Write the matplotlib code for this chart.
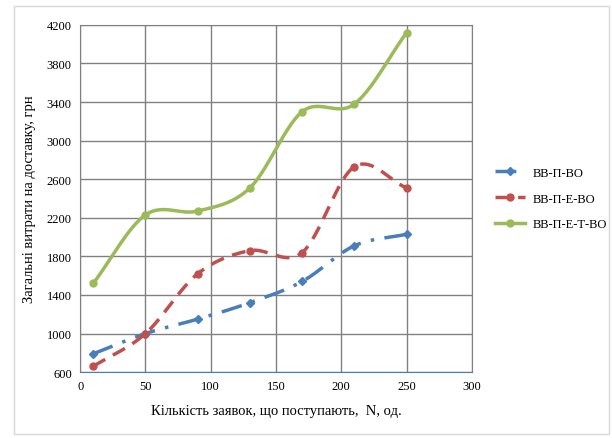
import numpy as np
import matplotlib.pyplot as plt
from matplotlib.patches import Rectangle

# data
n_orders = [10, 50, 90, 130, 170, 210, 250]
cost_vv_p_vo = [790, 1000, 1150, 1320, 1540, 1910, 2030]
cost_vv_p_e_vo = [660, 1000, 1620, 1860, 1840, 2730, 2510]
cost_vv_p_e_t_vo = [1520, 2230, 2270, 2510, 3300, 3380, 4120]
series_names = ["ВВ-П-ВО", "ВВ-П-Е-ВО", "ВВ-П-Е-Т-ВО"]


def smooth(x, y, steps=30):
    # Catmull-Rom curve through the points, like Excel's "smoothed line"
    x = np.asarray(x, float)
    y = np.asarray(y, float)
    px = np.concatenate([[2 * x[0] - x[1]], x, [2 * x[-1] - x[-2]]])
    py = np.concatenate([[2 * y[0] - y[1]], y, [2 * y[-1] - y[-2]]])
    t = np.linspace(0, 1, steps)[:, None]
    xs, ys = [], []
    for i in range(1, len(px) - 2):
        for p, out in ((px, xs), (py, ys)):
            p0, p1, p2, p3 = p[i - 1], p[i], p[i + 1], p[i + 2]
            c = 0.5 * ((2 * p1) + (-p0 + p2) * t + (2 * p0 - 5 * p1 + 4 * p2 - p3) * t ** 2
                       + (-p0 + 3 * p1 - 3 * p2 + p3) * t ** 3)
            out.append(c.ravel())
    return np.concatenate(xs), np.concatenate(ys)


plt.rcParams["font.family"] = ["Liberation Serif", "DejaVu Serif"]

fig = plt.figure(figsize=(6.12, 4.39), dpi=100)
ax = fig.add_axes([0.131, 0.150, 0.640, 0.791])

fig.patches.append(Rectangle((0.023, 0.008), 0.972, 0.975, transform=fig.transFigure,
                             fill=False, edgecolor="#d9d9d9", lw=1.0))

styles = [
    (cost_vv_p_vo, "#4a7ebb", (0, (6, 3, 1, 3)), "D", 4.5),
    (cost_vv_p_e_vo, "#c0504d", (0, (4, 2.5)), "o", 5),
    (cost_vv_p_e_t_vo, "#9bbb59", "-", "o", 5),
]
for (vals, color, ls, mk, ms), name in zip(styles, series_names):
    sx, sy = smooth(n_orders, vals)
    ax.plot(sx, sy, color=color, lw=2.5, linestyle=ls, zorder=3)
    ax.plot(n_orders, vals, linestyle="none", marker=mk, ms=ms, color=color, zorder=4)
    ax.plot([], [], color=color, lw=2.5, linestyle=ls, marker=mk, ms=ms, label=name)

ax.set_xlim(0, 300)
ax.set_ylim(600, 4200)
ax.set_xticks(np.arange(0, 301, 50))
ax.set_yticks(np.arange(600, 4201, 400))
ax.grid(True, color="#808080", lw=1.0)
ax.set_axisbelow(True)
for side in ("top", "right", "left"):
    ax.spines[side].set_color("#808080")
ax.spines["bottom"].set_color("#4a7ebb")
ax.tick_params(length=0, labelsize=9, pad=6)

ax.set_xlabel("Кількість заявок, що поступають,  N, од.", fontsize=10.5, labelpad=8)
ax.set_ylabel("Загальні витрати на доставку, грн", fontsize=10.5, labelpad=8)

ax.legend(loc="center left", bbox_to_anchor=(1.03, 0.5), frameon=False, fontsize=9,
          handlelength=2.4, labelspacing=1.1, handletextpad=0.6)

fig.savefig("out.png", dpi=100)
plt.close(fig)
